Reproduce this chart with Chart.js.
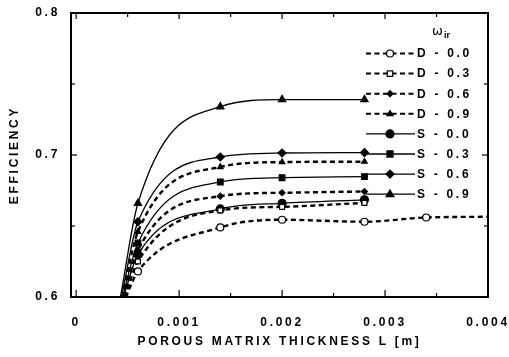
<!DOCTYPE html>
<html>
<head>
<meta charset="utf-8">
<script src="https://cdn.jsdelivr.net/npm/chart.js@4/dist/chart.umd.min.js"></script>
<style>
  html, body { margin: 0; padding: 0; background: #fff; }
  canvas { display: block; }
</style>
</head>
<body>
<canvas id="c" width="509" height="357"></canvas>
<script>
// ---------- data ----------
const seriesNames = ['D - 0.0', 'D - 0.3', 'D - 0.6', 'D - 0.9', 'S - 0.0', 'S - 0.3', 'S - 0.6', 'S - 0.9'];

const xD00 = [0.00048, 0.0006, 0.0014, 0.002, 0.0028, 0.0034, 0.004];
const yD00 = [0.600, 0.618, 0.649, 0.6544, 0.653, 0.656, 0.6565];

const xD03 = [0.00047, 0.0006, 0.0014, 0.002, 0.0028];
const yD03 = [0.600, 0.625, 0.661, 0.6635, 0.6663];

const xD06 = [0.00046, 0.0006, 0.0014, 0.002, 0.0028];
const yD06 = [0.600, 0.633, 0.671, 0.6734, 0.6743];

const xD09 = [0.00045, 0.0006, 0.0014, 0.002, 0.0028];
const yD09 = [0.600, 0.646, 0.6916, 0.695, 0.6953];

const xS00 = [0.00046, 0.0006, 0.0014, 0.002, 0.0028];
const yS00 = [0.600, 0.630, 0.662, 0.666, 0.6684];

const xS03 = [0.00045, 0.0006, 0.0014, 0.002, 0.0028];
const yS03 = [0.600, 0.638, 0.681, 0.684, 0.6848];

const xS06 = [0.00044, 0.0006, 0.0014, 0.002, 0.0028];
const yS06 = [0.600, 0.653, 0.6986, 0.7014, 0.7017];

const xS09 = [0.00043, 0.0006, 0.0014, 0.002, 0.0028];
const yS09 = [0.600, 0.666, 0.734, 0.739, 0.739];

const xTickValues = [0, 0.001, 0.002, 0.003, 0.004];
const xTickLabels = ['0', '0.001', '0.002', '0.003', '0.004'];
const xMinorTicks = [0.0005, 0.0015, 0.0025, 0.0035];
const yTickValues = [0.6, 0.7, 0.8];
const yTickLabels = ['0.6', '0.7', '0.8'];
const yMinorTicks = [0.65, 0.75];

const xTitle = 'POROUS MATRIX THICKNESS L [m]';
const yTitle = 'EFFICIENCY';
const legendHeader = 'ω';
const legendHeaderSub = 'ir';

// ---------- styling ----------
const FONT = '"Liberation Sans", Arial, Helvetica, sans-serif';
const LS = '2.7px';
const DASH = [5, 3.5];

function pts(xs, ys) { return xs.map((v, i) => ({ x: v, y: ys[i] })); }

const styles = [
  { dash: true,  pointStyle: 'circle',  fill: '#fff', r: 3.5, hideLast: true },
  { dash: true,  pointStyle: 'rect',    fill: '#fff', r: 3.5 },
  { dash: true,  pointStyle: 'rectRot', fill: '#000', r: 3 },
  { dash: true,  pointStyle: 'triangle',fill: '#000', r: 3.2 },
  { dash: false, pointStyle: 'circle',  fill: '#000', r: 4 },
  { dash: false, pointStyle: 'rect',    fill: '#000', r: 4 },
  { dash: false, pointStyle: 'rectRot', fill: '#000', r: 4 },
  { dash: false, pointStyle: 'triangle',fill: '#000', r: 4.2 }
];

const seriesData = [
  pts(xD00, yD00), pts(xD03, yD03), pts(xD06, yD06), pts(xD09, yD09),
  pts(xS00, yS00), pts(xS03, yS03), pts(xS06, yS06), pts(xS09, yS09)
];

const datasets = seriesNames.map((name, i) => {
  const s = styles[i];
  const n = seriesData[i].length;
  return {
    label: name,
    data: seriesData[i],
    borderColor: '#000',
    borderWidth: s.dash ? 2.4 : 1.3,
    borderDash: s.dash ? DASH : [],
    cubicInterpolationMode: 'monotone',
    pointStyle: s.pointStyle,
    pointBackgroundColor: s.fill,
    pointBorderColor: '#000',
    pointBorderWidth: 1.2,
    pointRadius: (ctx) => (ctx.dataIndex === 0 || (s.hideLast && ctx.dataIndex === n - 1)) ? 0 : s.r,
    fill: false
  };
});

function setLS(chart) { try { chart.ctx.letterSpacing = LS; } catch (e) {} }

const letterSpacingPlugin = {
  id: 'letterSpacing',
  beforeInit: setLS,
  beforeLayout: setLS,
  beforeDraw: setLS
};

function drawMarker(ctx, style, fill, r, x, y) {
  ctx.save();
  ctx.setLineDash([]);
  ctx.fillStyle = fill;
  ctx.strokeStyle = '#000';
  ctx.lineWidth = 1.2;
  ctx.beginPath();
  if (style === 'circle') {
    ctx.arc(x, y, r, 0, Math.PI * 2);
  } else if (style === 'rect') {
    const s = r * Math.SQRT2 * 0.9;
    ctx.rect(x - s / 2 - 0.5, y - s / 2 - 0.5, s + 1, s + 1);
  } else if (style === 'rectRot') {
    ctx.moveTo(x, y - r); ctx.lineTo(x + r, y); ctx.lineTo(x, y + r); ctx.lineTo(x - r, y); ctx.closePath();
  } else if (style === 'triangle') {
    ctx.moveTo(x, y - r); ctx.lineTo(x + r * 0.95, y + r * 0.6); ctx.lineTo(x - r * 0.95, y + r * 0.6); ctx.closePath();
  }
  ctx.fill();
  ctx.stroke();
  ctx.restore();
}

const frameAndLegend = {
  id: 'frameAndLegend',
  afterDraw(chart) {
    const { ctx, chartArea: a, scales: { x, y } } = chart;
    ctx.save();
    ctx.strokeStyle = '#000';
    ctx.setLineDash([]);
    // frame
    ctx.lineWidth = 2;
    ctx.strokeRect(a.left, a.top, a.right - a.left, a.bottom - a.top);
    // inward ticks
    ctx.lineWidth = 1.2;
    const seg = (x1, y1, x2, y2) => { ctx.beginPath(); ctx.moveTo(x1, y1); ctx.lineTo(x2, y2); ctx.stroke(); };
    xTickValues.forEach(v => { const p = x.getPixelForValue(v); seg(p, a.bottom, p, a.bottom - 7); seg(p, a.top, p, a.top + 6); });
    xMinorTicks.forEach(v => { const p = x.getPixelForValue(v); seg(p, a.bottom, p, a.bottom - 4); seg(p, a.top, p, a.top + 4); });
    yTickValues.forEach(v => { const p = y.getPixelForValue(v); seg(a.left, p, a.left + 6, p); seg(a.right, p, a.right - 6, p); });
    yMinorTicks.forEach(v => { const p = y.getPixelForValue(v); seg(a.left, p, a.left + 4, p); seg(a.right, p, a.right - 4, p); });

    // legend
    const lx0 = a.right - 122, lx1 = a.right - 73, mx = a.right - 98, tx = a.right - 71;
    const row0 = a.top + 40.5, step = 20.1;
    ctx.fillStyle = '#000';
    ctx.textBaseline = 'middle';
    ctx.textAlign = 'left';
    try { ctx.letterSpacing = '0px'; } catch (e) {}
    ctx.font = '13px "DejaVu Sans", sans-serif';
    ctx.fillText(legendHeader, a.right - 56, a.top + 19);
    ctx.font = 'bold 9px ' + FONT;
    ctx.fillText(legendHeaderSub, a.right - 44, a.top + 23);
    try { ctx.letterSpacing = LS; } catch (e) {}
    ctx.font = 'bold 12px ' + FONT;
    seriesNames.forEach((name, i) => {
      const s = styles[i];
      const yy = row0 + i * step;
      ctx.lineWidth = s.dash ? 2 : 1.3;
      ctx.setLineDash(s.dash ? DASH : []);
      seg(lx0, yy, lx1, yy);
      ctx.setLineDash([]);
      drawMarker(ctx, s.pointStyle, s.fill, s.r, mx, yy);
      ctx.fillStyle = '#000';
      ctx.fillText(name, tx, yy + 0.5);
    });
    ctx.restore();
  }
};

const chart = new Chart(document.getElementById('c'), {
  type: 'line',
  data: { datasets },
  plugins: [letterSpacingPlugin, frameAndLegend],
  options: {
    responsive: false,
    animation: false,
    events: [],
    layout: { padding: { top: 13, right: 21, left: 0, bottom: 0 } },
    plugins: { legend: { display: false }, tooltip: { enabled: false } },
    scales: {
      x: {
        type: 'linear',
        min: -0.00005,
        max: 0.004,
        grid: { display: false, drawTicks: false },
        border: { display: false },
        afterBuildTicks: (s) => { s.ticks = xTickValues.map(v => ({ value: v })); },
        afterFit: (s) => { s.height = 60; s.paddingLeft = 0; s.paddingRight = 0; },
        ticks: {
          autoSkip: false, maxRotation: 0, padding: 18, color: '#000',
          font: { family: FONT, size: 12, weight: 'bold' },
          callback: (v, i) => xTickLabels[i]
        },
        title: {
          display: true, text: xTitle, color: '#000',
          font: { family: FONT, size: 12, weight: 'bold' },
          padding: { top: 0, bottom: 8 }
        }
      },
      y: {
        type: 'linear',
        min: 0.6,
        max: 0.8,
        grid: { display: false, drawTicks: false },
        border: { display: false },
        afterBuildTicks: (s) => { s.ticks = yTickValues.map(v => ({ value: v })); },
        afterFit: (s) => { s.width = 71; s.paddingTop = 0; s.paddingBottom = 0; },
        ticks: {
          autoSkip: false, padding: 11, color: '#000',
          font: { family: FONT, size: 12, weight: 'bold' },
          callback: (v, i) => yTickLabels[i]
        },
        title: {
          display: true, text: yTitle, color: '#000',
          font: { family: FONT, size: 12, weight: 'bold' },
          padding: { top: 7, bottom: 0 }
        }
      }
    }
  }
});
</script>
</body>
</html>
